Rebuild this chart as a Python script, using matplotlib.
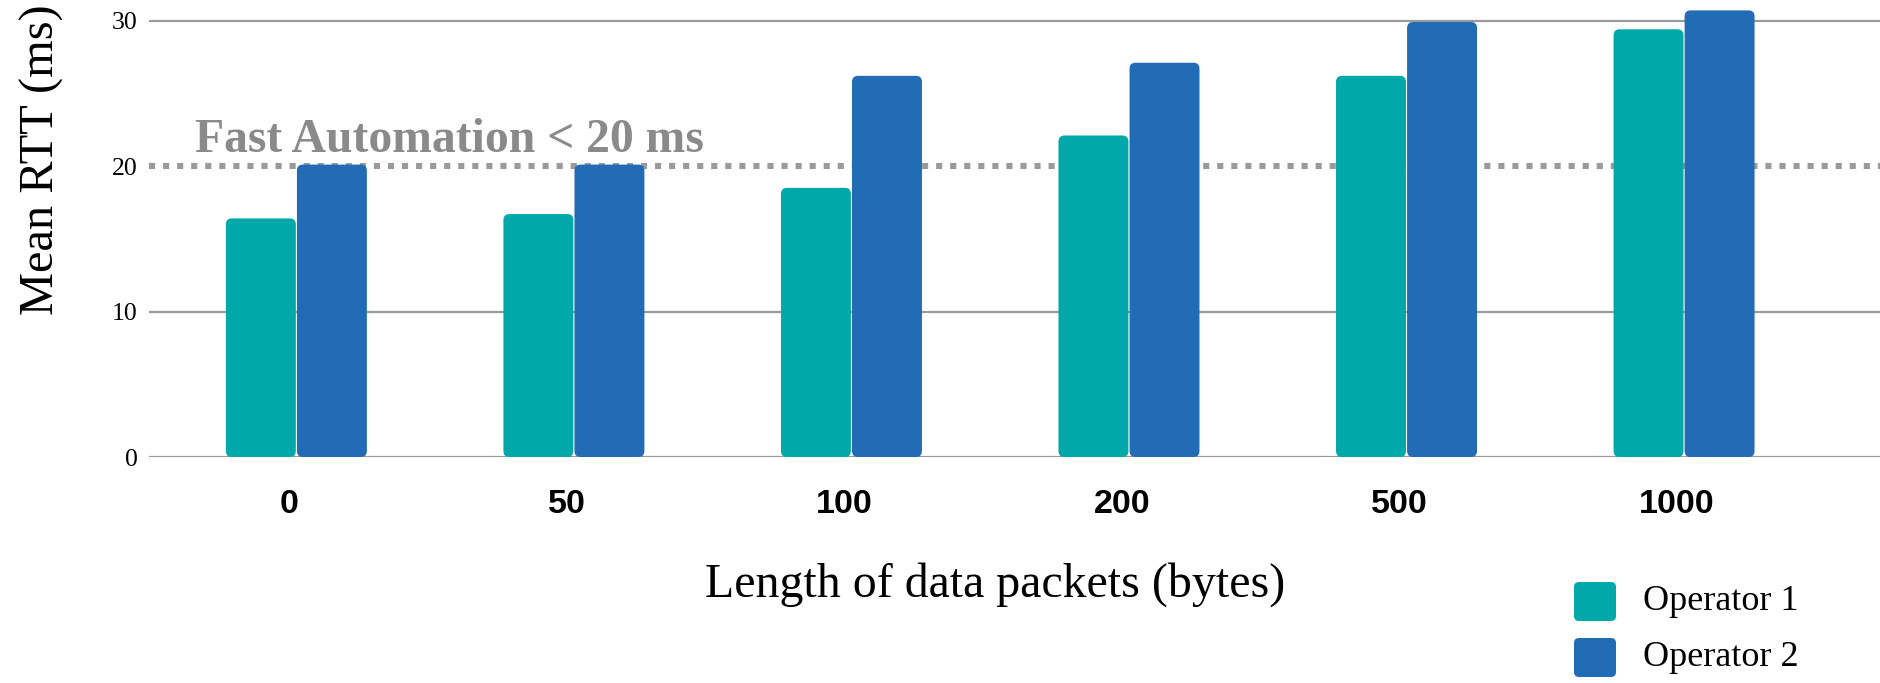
import numpy as np
import matplotlib
matplotlib.use("Agg")
import matplotlib.pyplot as plt
from matplotlib.patches import FancyBboxPatch
from matplotlib.transforms import ScaledTranslation

# Mean round-trip time per packet length, two mobile operators
packet_lengths = ["0", "50", "100", "200", "500", "1000"]
series_names = ["Operator 1", "Operator 2"]
operator1_rtt = [16.4, 16.7, 18.5, 22.1, 26.2, 29.4]
operator2_rtt = [20.1, 20.1, 26.2, 27.1, 29.9, 30.7]
y_ticks = [0, 10, 20, 30]
threshold = 20
threshold_label = "Fast Automation < 20 ms"

colors = ["#00A8A9", "#226BB5"]
grid_color = "#9a9a9a"
serif = ["Liberation Serif", "DejaVu Serif"]
sans = ["Liberation Sans", "DejaVu Sans"]

W, H = 1880, 683
fig = plt.figure(figsize=(W / 100, H / 100), dpi=100)
ax = fig.add_axes([149 / W, 1 - 457 / H, 1 - 149 / W, 451 / H])

xlim = (-0.531, 5.706)
ylim = (0, 31)
ax.set_xlim(*xlim)
ax.set_ylim(*ylim)

# pixel scale of data units, used to keep the bar corners circular
px_per_x = ax.get_position().width * W / (xlim[1] - xlim[0])
px_per_y = ax.get_position().height * H / (ylim[1] - ylim[0])
radius_px = 6
aspect = px_per_x / px_per_y

# gridlines
for t in y_ticks:
    if t == threshold:
        continue
    ax.axhline(t, color=grid_color, lw=1.6, zorder=1)

# threshold line
ax.axhline(threshold, color=grid_color, lw=4.4, linestyle=(0, (1.0, 1.3)),
           dash_capstyle="butt", zorder=1)
ax.text(-0.366, 20.96, threshold_label, family=serif, fontweight="bold",
        fontsize=34.3, color="#8a8a8a", ha="left", va="baseline", zorder=2)

x = np.arange(len(packet_lengths))
width = 0.256
for i, (vals, col) in enumerate(zip([operator1_rtt, operator2_rtt], colors)):
    offs = (i - 0.5) * width
    bars = ax.bar(x + offs, vals, width=width, color=col, alpha=0)
    for b in bars:
        p = FancyBboxPatch((b.get_x() + 0.002, b.get_y()), b.get_width() - 0.004, b.get_height(),
                           boxstyle=f"round,pad=0,rounding_size={radius_px / px_per_x}",
                           mutation_aspect=aspect, facecolor=col, edgecolor="none", zorder=3)
        ax.add_patch(p)

for s in ax.spines.values():
    s.set_visible(False)

ax.set_yticks(y_ticks)
ax.set_yticklabels([str(t) for t in y_ticks], family=serif, fontsize=18.5)
ax.tick_params(axis="y", length=0, pad=8)
ax.set_xticks(x)
ax.set_xticklabels(packet_lengths, family=sans, fontweight="bold", fontsize=24.5)
ax.tick_params(axis="x", length=0, pad=23)
shift = ScaledTranslation(-7 / 100, 0, fig.dpi_scale_trans)
for lab in ax.get_xticklabels():
    lab.set_transform(lab.get_transform() + shift)

fig.text(995 / W, 1 - 585 / H, "Length of data packets (bytes)", family=serif,
         fontsize=34.5, ha="center", va="center")
fig.text(42 / W, 1 - 160 / H, "Mean RTT (ms)", family=serif, fontsize=34.8,
         rotation=90, ha="center", va="center")

# legend
for k, (name, col) in enumerate(zip(series_names, colors)):
    cy = 601.5 + 56 * k
    sq = FancyBboxPatch((1574 / W, 1 - (cy + 19.5) / H), 42 / W, 39 / H,
                        boxstyle=f"round,pad=0,rounding_size={5 / W}",
                        mutation_aspect=W / H, transform=fig.transFigure,
                        facecolor=col, edgecolor="none")
    fig.add_artist(sq)
    fig.text(1643 / W, 1 - cy / H, name, family=serif, fontsize=26,
             ha="left", va="center")

fig.savefig("out.png", dpi=100)
